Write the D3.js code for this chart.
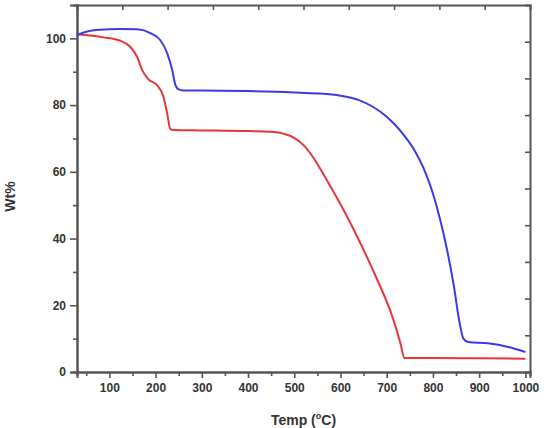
<!DOCTYPE html>
<html>
<head>
<meta charset="utf-8">
<script src="https://cdn.jsdelivr.net/npm/d3@7"></script>
<style>
  body { margin: 0; background: #fff; }
  text { font-family: 'Liberation Sans', Arial, sans-serif; font-weight: bold; fill: #333; }
</style>
</head>
<body>
<div id="chart"></div>
<script>
// TGA curves
var blueTemp = [30, 50, 80, 120, 160, 190, 210, 225, 236, 243, 250, 260, 300, 400, 500, 550, 600, 640, 670, 700, 720, 740, 760, 780, 800, 815, 830, 845, 858, 866, 876, 919, 963, 1000];
var blueWt   = [101, 102, 102.6, 102.8, 102.7, 101.5, 99.5, 95.6, 90.5, 86, 84.7, 84.4, 84.4, 84.2, 83.8, 83.5, 82.8, 81.5, 79.5, 76.5, 73.8, 70.5, 66.5, 61, 53.5, 46, 37, 26, 14.5, 10, 9, 8.6, 7.5, 6];
var redTemp  = [30, 87, 124, 145, 160, 171, 184, 203, 217, 225, 232, 240, 300, 400, 450, 480, 500, 520, 540, 560, 580, 600, 640, 680, 710, 730, 738, 800, 900, 1000];
var redWt    = [101.2, 100.3, 99.3, 97.5, 94.5, 90.5, 87.8, 86, 82.5, 77.6, 72.8, 72.5, 72.4, 72.2, 72, 71.3, 70.2, 68, 64.5, 60, 55.2, 50.3, 39.5, 27.5, 17.5, 8.5, 4.2, 4.2, 4.1, 4.0];

var xTicks = [100, 200, 300, 400, 500, 600, 700, 800, 900, 1000];
var yTicks = [0, 20, 40, 60, 80, 100];

var width = 546, height = 428;
var margin = {top: 5, right: 16, bottom: 56, left: 77};
var w = width - margin.left - margin.right,
    h = height - margin.top - margin.bottom;

var x = d3.scaleLinear().domain([30, 1010]).range([0, w]);
var y = d3.scaleLinear().domain([0, 110]).range([h, 0]);

var svg = d3.select("#chart").append("svg")
  .attr("width", width)
  .attr("height", height)
  .append("g")
  .attr("transform", "translate(" + margin.left + "," + margin.top + ")");

var axisColor = "#555";

// minor ticks first, then the labelled axes
var xMinor = d3.axisBottom(x).tickValues(d3.range(50, 1001, 100)).tickSize(4).tickFormat("");
var yMinor = d3.axisLeft(y).tickValues(d3.range(10, 101, 20)).tickSize(4).tickFormat("");
var xAxis = d3.axisBottom(x).tickValues(xTicks).tickSize(6).tickPadding(5).tickFormat(d3.format("d"));
var yAxis = d3.axisLeft(y).tickValues(yTicks).tickSize(7).tickPadding(4).tickFormat(d3.format("d"));
// top and right ticks sit at tenths of the frame, pointing in
var xTop = d3.axisTop(x).tickValues(d3.range(1, 10).map(function(k) { return 30 + 98 * k; })).tickSize(-5).tickFormat("");
var yRight = d3.axisRight(y).tickValues(d3.range(1, 10).map(function(k) { return 11 * k; })).tickSize(-5).tickFormat("");

function style(g) {
  g.select(".domain").attr("stroke", axisColor).attr("stroke-width", 2);
  g.selectAll(".tick line").attr("stroke", axisColor).attr("stroke-width", 1.6);
  g.selectAll(".tick text").style("font-size", "12px").attr("fill", "#333")
    .style("font-family", "'Liberation Sans', Arial, sans-serif").style("font-weight", "bold");
}

svg.append("g").attr("transform", "translate(0," + h + ")").call(xMinor).call(style);
svg.append("g").call(yMinor).call(style);
svg.append("g").call(xTop).call(style);
svg.append("g").attr("transform", "translate(" + w + ",0)").call(yRight).call(style);
svg.append("g").attr("transform", "translate(0," + h + ")").call(xAxis).call(style);
svg.append("g").call(yAxis).call(style);

var line = d3.line()
  .x(function(d) { return x(d[0]); })
  .y(function(d) { return y(d[1]); })
  .curve(d3.curveMonotoneX);

svg.append("path")
  .datum(d3.zip(redTemp, redWt))
  .attr("fill", "none")
  .attr("stroke", "#e8353b")
  .attr("stroke-width", 2)
  .attr("d", line);

svg.append("path")
  .datum(d3.zip(blueTemp, blueWt))
  .attr("fill", "none")
  .attr("stroke", "#3a3ae6")
  .attr("stroke-width", 2)
  .attr("d", line);

// axis titles
var xt = svg.append("text")
  .attr("x", w / 2)
  .attr("y", h + 53)
  .attr("text-anchor", "middle")
  .style("font-size", "14px");
xt.append("tspan").text("Temp (");
xt.append("tspan").text("o").style("font-size", "9px").attr("dy", "-6");
xt.append("tspan").text("C)").attr("dy", "6");

svg.append("text")
  .attr("transform", "translate(" + (-62) + "," + (h / 2 + 8) + ") rotate(-90)")
  .attr("text-anchor", "middle")
  .style("font-size", "14px")
  .text("Wt%");
</script>
</body>
</html>
